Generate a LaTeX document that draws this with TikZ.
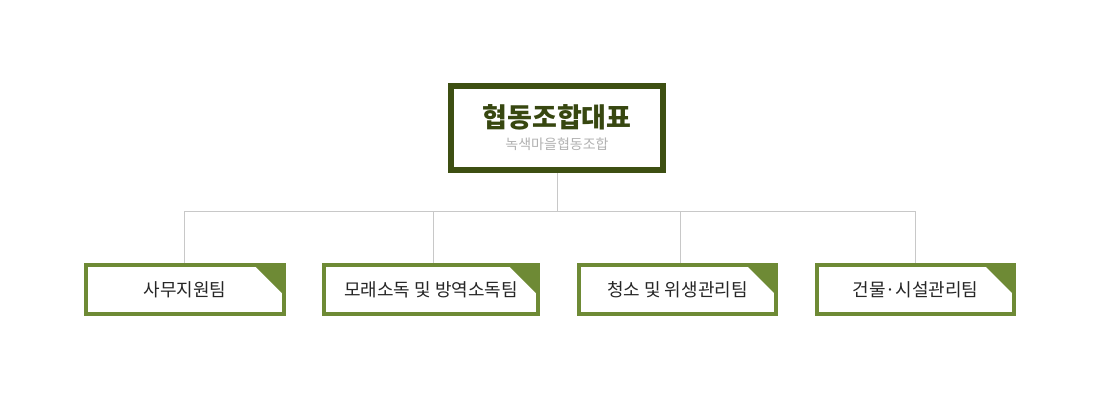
\documentclass[tikz,border=0pt]{standalone}
\usepackage{fontspec}
\setmainfont{Noto Sans CJK KR}
\usetikzlibrary{positioning}
\definecolor{darkolive}{HTML}{3D4F12}
\definecolor{olivegreen}{HTML}{6E8A35}
\definecolor{linegray}{HTML}{C8C8C8}
\begin{document}
\begin{tikzpicture}[x=1pt,y=-1pt,
  head/.style={draw=darkolive,line width=6pt,fill=white,minimum width=212pt,minimum height=84pt,inner sep=0pt,align=center,font=\fontsize{14}{20}\selectfont},
  team/.style={draw=olivegreen,line width=4pt,fill=white,minimum height=49pt,inner sep=0pt,font=\fontsize{18}{20}\selectfont,text=black!85},
  link/.style={draw=linegray,line width=0.8pt}]
\useasboundingbox (0,0) rectangle (1100,400);
\node[head] (ceo) at (557,128) {{\fontsize{27}{30}\selectfont\bfseries\color{darkolive!90!black}협동조합대표}\\[2pt]{\fontsize{14}{16}\selectfont\color{black!30}녹색마을협동조합}};
\node[team,minimum width=198pt] (t1) at (185,289.5) {사무지원팀};
\node[team,minimum width=214pt] (t2) at (431,289.5) {모래소독 및 방역소독팀};
\node[team,minimum width=197pt] (t3) at (677.5,289.5) {청소 및 위생관리팀};
\node[team,minimum width=197pt] (t4) at (915.5,289.5) {건물·시설관리팀};
\coordinate (split) at (557,211);
% connectors
\draw[link] (ceo.south) -- (split);
\draw[link] (t1.north -| 184,0) |- (split);
\draw[link] (t4.north -| 915,0) |- (split);
\draw[link] (t2.north -| 433,0) -- (433,211);
\draw[link] (t3.north -| 680,0) -- (680,211);
% corner marks
\foreach \t in {t1,t2,t3,t4}
  \fill[olivegreen] ([xshift=-2pt,yshift=-2pt]\t.north east) -- ++(-30,0) -- ++(30,30) -- cycle;
\end{tikzpicture}
\end{document}
